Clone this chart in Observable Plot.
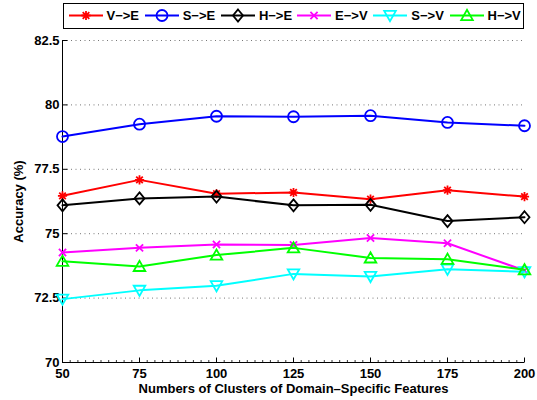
<!DOCTYPE html>
<html>
<head>
<meta charset="utf-8">
<script src="https://cdn.jsdelivr.net/npm/d3@7"></script>
<script src="https://cdn.jsdelivr.net/npm/@observablehq/plot@0.6"></script>
<style>
  html, body { margin: 0; padding: 0; background: #fff; }
  #wrap { position: relative; width: 537px; height: 400px; font-family: "Liberation Sans", Arial, Helvetica, sans-serif; }
  #legend { position: absolute; left: 63px; top: 3px; width: 461px; height: 26px; box-sizing: border-box; border: 1.5px solid #000; background: #fff; z-index: 2; }
  .item { position: absolute; top: 0; height: 23px; display: flex; align-items: center; }
  .item span { font-weight: bold; font-size: 13px; margin-left: 4px; color: #000; }
  #chart { position: absolute; left: 0; top: 0; }
</style>
</head>
<body>
<div id="wrap">
  <div id="legend"></div>
  <div id="chart"></div>
</div>
<script>
// ---- data ----
const clusters = [50, 75, 100, 125, 150, 175, 200];
const seriesNames = ["V−>E", "S−>E", "H−>E", "E−>V", "S−>V", "H−>V"];
const seriesColors = ["#ff0000", "#0000ff", "#000000", "#ff00ff", "#00ffff", "#00ff00"];
const vToE = [76.47, 77.09, 76.55, 76.60, 76.34, 76.69, 76.44];
const sToE = [78.77, 79.25, 79.56, 79.54, 79.58, 79.32, 79.19];
const hToE = [76.10, 76.37, 76.44, 76.10, 76.12, 75.49, 75.64];
const eToV = [74.27, 74.45, 74.58, 74.56, 74.83, 74.63, 73.57];
const sToV = [72.46, 72.80, 72.98, 73.44, 73.34, 73.62, 73.52];
const hToV = [73.93, 73.73, 74.17, 74.45, 74.06, 74.01, 73.60];
const seriesValues = [vToE, sToE, hToE, eToV, sToV, hToV];
const yTicks = [70, 72.5, 75, 77.5, 80, 82.5];
const xTicks = [50, 75, 100, 125, 150, 175, 200];
const xMinorTicks = d3.range(50, 200.01, 2.5).filter(v => !xTicks.includes(v));

// ---- marker shapes (d3 symbol types) ----
const symbols = [
  { draw(c) { const a = 4.6, b = 3.3; c.moveTo(-a, 0); c.lineTo(a, 0); c.moveTo(0, -a); c.lineTo(0, a); c.moveTo(-b, -b); c.lineTo(b, b); c.moveTo(-b, b); c.lineTo(b, -b); } },
  { draw(c) { c.moveTo(5.5, 0); c.arc(0, 0, 5.5, 0, 2 * Math.PI); c.closePath(); } },
  { draw(c) { c.moveTo(0, -6); c.lineTo(5, 0); c.lineTo(0, 6); c.lineTo(-5, 0); c.closePath(); } },
  { draw(c) { const a = 3.6; c.moveTo(-a, -a); c.lineTo(a, a); c.moveTo(-a, a); c.lineTo(a, -a); } },
  { draw(c) { c.moveTo(-5.8, -4.6); c.lineTo(5.8, -4.6); c.lineTo(0, 5.6); c.closePath(); } },
  { draw(c) { c.moveTo(-5.8, 4.6); c.lineTo(5.8, 4.6); c.lineTo(0, -5.6); c.closePath(); } }
];
const yTickShape = { draw(c) { c.moveTo(0, 0); c.lineTo(5, 0); } };
const xTickShape = { draw(c) { c.moveTo(0, 0); c.lineTo(0, -5); } };
const xMinorShape = { draw(c) { c.moveTo(0, 0); c.lineTo(0, -2.5); } };

const rows = seriesNames.flatMap((s, i) => clusters.map((x, j) => ({ series: s, idx: i, x, y: seriesValues[i][j] })));

const seriesMarks = seriesNames.flatMap((s, i) => {
  const d = rows.filter(r => r.idx === i);
  return [
    Plot.line(d, { x: "x", y: "y", stroke: seriesColors[i], strokeWidth: 2 }),
    Plot.dot(d, { x: "x", y: "y", symbol: symbols[i], stroke: seriesColors[i], fill: "none", strokeWidth: 1.8 })
  ];
});

const chart = Plot.plot({
  width: 537,
  height: 400,
  marginLeft: 62,
  marginRight: 13,
  marginTop: 40,
  marginBottom: 38,
  style: { fontFamily: "'Liberation Sans', Arial, Helvetica, sans-serif", fontSize: "13px", fontWeight: "bold", background: "transparent", overflow: "visible" },
  x: { domain: [50, 200] },
  y: { domain: [70, 82.5] },
  marks: [
    Plot.ruleY(yTicks.filter(v => v > 70), { stroke: "#777", strokeWidth: 1, strokeDasharray: "1,3.5" }),
    Plot.ruleX([50], { stroke: "#000", strokeWidth: 1 }),
    Plot.ruleY([70], { stroke: "#000", strokeWidth: 1 }),
    Plot.dot(yTicks, { x: () => 50, y: d => d, symbol: yTickShape, stroke: "#000", strokeWidth: 1 }),
    Plot.dot(xTicks, { x: d => d, y: () => 70, symbol: xTickShape, stroke: "#000", strokeWidth: 1 }),
    Plot.dot(xMinorTicks, { x: d => d, y: () => 70, symbol: xMinorShape, stroke: "#000", strokeWidth: 0.8 }),
    Plot.axisX({ ticks: xTicks, tickSize: 0, tickPadding: 6, tickFormat: d => String(d), label: "Numbers of Clusters of Domain–Specific Features", labelAnchor: "center", labelArrow: "none", labelOffset: 30, fontWeight: "bold" }),
    Plot.axisY({ ticks: yTicks, tickSize: 0, tickPadding: 3, tickFormat: d => String(d), label: "Accuracy (%)", labelAnchor: "center", labelArrow: "none", labelOffset: 49, fontWeight: "bold" }),
    ...seriesMarks
  ]
});
document.getElementById("chart").appendChild(chart);

// ---- legend ----
const legend = d3.select("#legend");
seriesNames.forEach((s, i) => {
  const item = legend.append("div").attr("class", "item").style("left", (4.5 + i * 76.2) + "px");
  const svg = item.append("svg").attr("width", 34).attr("height", 23);
  svg.append("line").attr("x1", 0).attr("x2", 34).attr("y1", 11.5).attr("y2", 11.5).attr("stroke", seriesColors[i]).attr("stroke-width", 2);
  svg.append("path").attr("d", d3.symbol(symbols[i])()).attr("transform", "translate(17,11.5)").attr("fill", "none").attr("stroke", seriesColors[i]).attr("stroke-width", 1.8);
  item.append("span").text(s);
});
</script>
</body>
</html>
